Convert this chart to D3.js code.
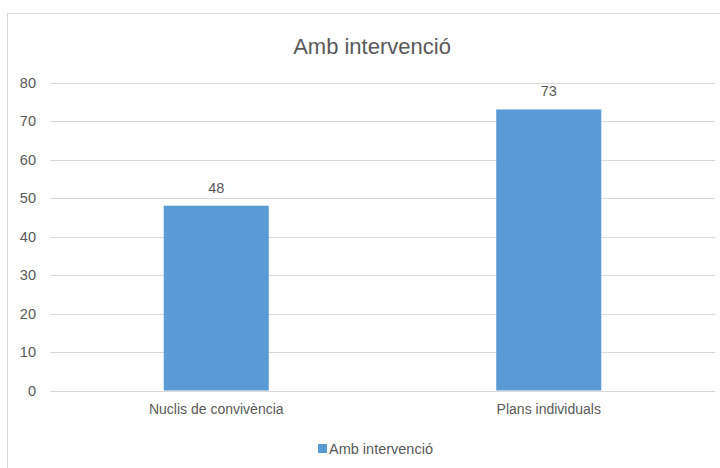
<!DOCTYPE html>
<html>
<head>
<meta charset="utf-8">
<script src="https://cdn.jsdelivr.net/npm/d3@7"></script>
<style>
  body { margin: 0; background: #fff; }
  svg text { font-family: "Liberation Sans", Arial, sans-serif; fill: #595959; }
</style>
</head>
<body>
<svg id="chart" width="720" height="468"></svg>
<script>
const title = "Amb intervenció"
const seriesName = "Amb intervenció"
const categories = ["Nuclis de convivència", "Plans individuals"]
const values = [48, 73]
const yTicks = [0, 10, 20, 30, 40, 50, 60, 70, 80]

const width = 720
const height = 468
const margin = { top: 82.5, right: 5, bottom: 77.5, left: 50 }
const barColour = "#5b9bd5"

const svg = d3.select("#chart")

// chart frame
svg.append("rect")
  .attr("x", 7.5)
  .attr("y", 13.5)
  .attr("width", 730)
  .attr("height", 480)
  .attr("fill", "#fff")
  .attr("stroke", "#d9d9d9")

const x = d3.scaleBand()
  .domain(categories)
  .range([margin.left, width - margin.right])

const y = d3.scaleLinear()
  .domain([0, 80])
  .range([height - margin.bottom, margin.top])

// gridlines
svg.append("g")
  .selectAll("line")
  .data(yTicks)
  .enter()
  .append("line")
  .attr("x1", margin.left)
  .attr("x2", width - margin.right)
  .attr("y1", d => Math.round(y(d)) + 0.5)
  .attr("y2", d => Math.round(y(d)) + 0.5)
  .attr("stroke", "#d9d9d9")
  .attr("stroke-width", 1)

// y axis labels
const yAxis = g =>
  g
    .attr("transform", `translate(${margin.left - 14}, 0)`)
    .call(d3.axisLeft(y).tickValues(yTicks).tickSize(0).tickPadding(0))
    .call(g => g.select(".domain").remove())
    .call(g => g.selectAll("text")
      .style("font-size", "14.5px")
      .attr("fill", "#595959"))
svg.append("g").call(yAxis)

const barWidth = x.bandwidth() * 0.316

svg.append("g")
  .selectAll("rect")
  .data(values)
  .enter()
  .append("rect")
  .attr("x", (d, i) => x(categories[i]) + x.bandwidth() / 2 - barWidth / 2)
  .attr("width", barWidth)
  .attr("y", d => y(d))
  .attr("height", d => y(0) - y(d))
  .attr("fill", barColour)

// value labels
svg.append("g")
  .selectAll("text")
  .data(values)
  .enter()
  .append("text")
  .attr("x", (d, i) => x(categories[i]) + x.bandwidth() / 2)
  .attr("y", d => y(d) - 13)
  .attr("text-anchor", "middle")
  .style("font-size", "14.5px")
  .text(d => d)

// x axis labels
const xAxis = g =>
  g
    .attr("transform", `translate(0, ${height - margin.bottom})`)
    .call(d3.axisBottom(x).tickSize(0).tickPadding(14))
    .call(g => g.select(".domain").remove())
    .call(g => g.selectAll("text")
      .style("font-size", "14px")
      .attr("fill", "#595959"))
svg.append("g").call(xAxis)

// title
svg.append("text")
  .attr("x", 372)
  .attr("y", 54)
  .attr("text-anchor", "middle")
  .style("font-size", "22px")
  .text(title)

// legend
const legend = svg.append("g").attr("transform", "translate(318, 444)")
legend.append("rect")
  .attr("width", 9)
  .attr("height", 9)
  .attr("fill", barColour)
legend.append("text")
  .attr("x", 11)
  .attr("y", 9.5)
  .style("font-size", "14.5px")
  .text(seriesName)
</script>
</body>
</html>
